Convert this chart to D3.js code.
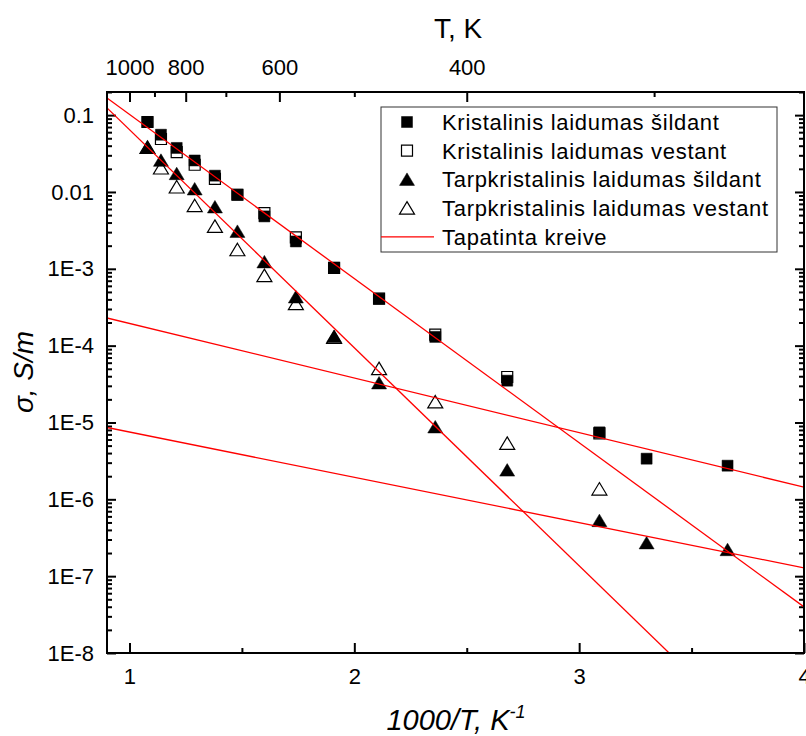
<!DOCTYPE html>
<html lang="lt">
<head>
	<meta charset="UTF-8">
	<title>Laidumas vs 1000/T</title>
	<script src="https://cdn.jsdelivr.net/npm/d3@7"></script>
	<style>
		body { margin: 0; background: #fff; }
		svg text { font-family: "Liberation Sans", Arial, sans-serif; fill: #000; }
		.axis line { stroke: #000; stroke-width: 2; }
		.axis text { font-size: 22px; }
	</style>
</head>
<body>
	<figure id="chart" style="margin:0"></figure>
	<script>
		// 1000/T, K^-1
		var invT = [1.08, 1.14, 1.21, 1.29, 1.38, 1.48, 1.60, 1.74, 1.91, 2.11, 2.36, 2.68, 3.09, 3.30, 3.66];

		// sigma, S/m
		var kristSildant = [0.0814, 0.0556, 0.0374, 0.0257, 0.0163, 0.00922, 0.00481, 0.00227, 0.00103, 4.08e-4, 1.30e-4, 3.50e-5, 7.44e-6, 3.38e-6, 2.74e-6];
		var kristVestant = [0.0814, 0.0489, 0.0331, 0.0226, 0.0148, 0.0092, 0.00532, 0.00256, 0.00103, 4.08e-4, 1.39e-4, 3.91e-5, 7.2e-6, null, null];
		var tarpSildant = [0.0380, 0.0258, 0.0173, 0.01094, 0.00638, 0.00307, 0.00123, 4.30e-4, 1.32e-4, 3.27e-5, 8.75e-6, 2.40e-6, 5.28e-7, 2.71e-7, 2.21e-7];
		var tarpVestant = [0.0380, 0.0205, 0.0116, 0.00663, 0.00357, 0.00177, 8.14e-4, 3.52e-4, 1.28e-4, 5.02e-5, 1.85e-5, 5.35e-6, 1.36e-6, null, null];

		// fitted lines, two end points each [1000/T, sigma]
		var fitA = [[0.9, 0.167], [4.0, 3.98e-8]];
		var fitB = [[0.9, 0.124], [3.4, 1.0e-8]];
		var fitC = [[0.9, 2.29e-4], [4.0, 1.44e-6]];
		var fitD = [[0.9, 8.61e-6], [4.0, 1.28e-7]];

		// ticks
		var xMajor = [1, 2, 3, 4];
		var xMinor = [1.5, 2.5, 3.5];
		var yMajor = [0.1, 0.01, 1e-3, 1e-4, 1e-5, 1e-6, 1e-7, 1e-8];
		var tMajor = [1000, 800, 600, 400];
		var tMinor = [900, 700, 500, 300];

		var legendLabels = ["Kristalinis laidumas šildant", "Kristalinis laidumas vestant",
			"Tarpkristalinis laidumas šildant", "Tarpkristalinis laidumas vestant", "Tapatinta kreive"];

		var w = 806, h = 736;
		var margin = {top: 92, right: 2, bottom: 83, left: 107},
			width = w - margin.left - margin.right,
			height = h - margin.top - margin.bottom;

		var root = d3.select("#chart").append("svg")
			.attr("width", w)
			.attr("height", h);
		var svg = root.append("g")
			.attr("transform", `translate(${margin.left},${margin.top})`);

		var x = d3.scaleLinear().domain([0.9, 4]).range([0, width]);
		var y = d3.scaleLog().domain([1e-8, 0.2]).range([height, 0]);

		var yMinor = [];
		for (var e = -8; e <= -1; e++) {
			for (var k = 2; k <= 9; k++) {
				var v = k * Math.pow(10, e);
				if (v <= 0.2) yMinor.push(v);
			}
		}

		var yFmt = d => d >= 0.01 ? String(+d.toFixed(2)) : "1E" + Math.round(Math.log10(d));
		var noDomain = g => g.select(".domain").remove();

		root.append("defs").append("clipPath").attr("id", "plotclip")
			.append("rect").attr("width", width).attr("height", height);

		// axes
		svg.append("g").attr("class", "axis")
			.attr("transform", `translate(0,${height})`)
			.call(d3.axisBottom(x).tickValues(xMajor).tickSize(-10).tickPadding(15).tickFormat(d3.format("d")))
			.call(noDomain);
		svg.append("g").attr("class", "axis")
			.attr("transform", `translate(0,${height})`)
			.call(d3.axisBottom(x).tickValues(xMinor).tickSize(-5).tickFormat(""))
			.call(noDomain);

		svg.append("g").attr("class", "axis")
			.call(d3.axisTop(x).tickValues(tMajor.map(t => 1000 / t)).tickSize(-10).tickPadding(17)
				.tickFormat(d => Math.round(1000 / d)))
			.call(noDomain);
		svg.append("g").attr("class", "axis")
			.call(d3.axisTop(x).tickValues(tMinor.map(t => 1000 / t)).tickSize(-5).tickFormat(""))
			.call(noDomain);

		svg.append("g").attr("class", "axis")
			.call(d3.axisLeft(y).tickValues(yMajor).tickSize(-9).tickPadding(13).tickFormat(yFmt))
			.call(noDomain);
		svg.append("g").attr("class", "axis")
			.call(d3.axisLeft(y).tickValues(yMinor).tickSize(-5).tickFormat(""))
			.call(noDomain);
		svg.append("g").attr("class", "axis")
			.attr("transform", `translate(${width},0)`)
			.call(d3.axisRight(y).tickValues(yMajor).tickSize(-9).tickFormat(""))
			.call(noDomain);
		svg.append("g").attr("class", "axis")
			.attr("transform", `translate(${width},0)`)
			.call(d3.axisRight(y).tickValues(yMinor).tickSize(-5).tickFormat(""))
			.call(noDomain);

		svg.selectAll(".axis text").attr("font-size", 22).attr("font-family", null);

		// markers
		var squarePath = "M-5.5,-5.5h11v11h-11z";
		var triPath = "M0,-6.5L7.5,6L-7.5,6Z";

		function drawSeries(vals, shape, filled) {
			var pts = invT.map((d, i) => ({x: d, y: vals[i]})).filter(d => d.y != null);
			svg.append("g").selectAll("path")
				.data(pts)
				.enter()
				.append("path")
				.attr("d", shape)
				.attr("transform", d => `translate(${x(d.x)},${y(d.y)})`)
				.attr("fill", filled ? "#000" : "#fff")
				.attr("stroke", "#000")
				.attr("stroke-width", filled ? 0.5 : 1.2);
		}
		drawSeries(kristVestant, squarePath, false);
		drawSeries(kristSildant, squarePath, true);
		drawSeries(tarpVestant, triPath, false);
		drawSeries(tarpSildant, triPath, true);

		// fitted lines
		var line = d3.line().x(d => x(d[0])).y(d => y(d[1]));
		svg.append("g").attr("clip-path", "url(#plotclip)")
			.selectAll("path")
			.data([fitA, fitB, fitC, fitD])
			.enter()
			.append("path")
			.attr("d", line)
			.attr("fill", "none")
			.attr("stroke", "#ff0000")
			.attr("stroke-width", 1.3);

		// frame
		svg.append("rect")
			.attr("width", width).attr("height", height)
			.attr("fill", "none").attr("stroke", "#000").attr("stroke-width", 2);

		// legend
		var lg = root.append("g").attr("transform", "translate(381,107)");
		lg.append("rect")
			.attr("width", 396).attr("height", 145)
			.attr("fill", "#fff").attr("stroke", "#333").attr("stroke-width", 1);
		var rows = lg.selectAll(".row")
			.data(legendLabels)
			.enter()
			.append("g")
			.attr("class", "row")
			.attr("transform", (d, i) => `translate(0,${15 + i * 28.7})`);
		rows.append("text")
			.attr("x", 61)
			.attr("dy", "0.36em")
			.attr("font-size", 22)
			.attr("letter-spacing", "0.7px")
			.text(d => d);
		var shapes = [squarePath, squarePath, triPath, triPath];
		rows.filter((d, i) => i < 4).append("path")
			.attr("transform", "translate(26,0)")
			.attr("d", (d, i) => shapes[i])
			.attr("fill", (d, i) => i % 2 === 0 ? "#000" : "#fff")
			.attr("stroke", "#000")
			.attr("stroke-width", (d, i) => i % 2 === 0 ? 0.5 : 1.2);
		rows.filter((d, i) => i === 4).append("line")
			.attr("x1", 0).attr("x2", 53)
			.attr("stroke", "#ff0000").attr("stroke-width", 1.3);

		// titles
		root.append("text")
			.attr("x", 458).attr("y", 38)
			.attr("text-anchor", "middle")
			.attr("font-size", 28)
			.text("T, K");

		var xt = root.append("text")
			.attr("x", 456).attr("y", 730)
			.attr("text-anchor", "middle")
			.attr("font-size", 29)
			.attr("font-style", "italic");
		xt.append("tspan").text("1000/T, K");
		xt.append("tspan").attr("font-size", 18).attr("dy", -12).text("-1");

		root.append("text")
			.attr("transform", "translate(33,372) rotate(-90)")
			.attr("text-anchor", "middle")
			.attr("font-size", 28)
			.attr("font-style", "italic")
			.text("σ, S/m");
	</script>
</body>
</html>
